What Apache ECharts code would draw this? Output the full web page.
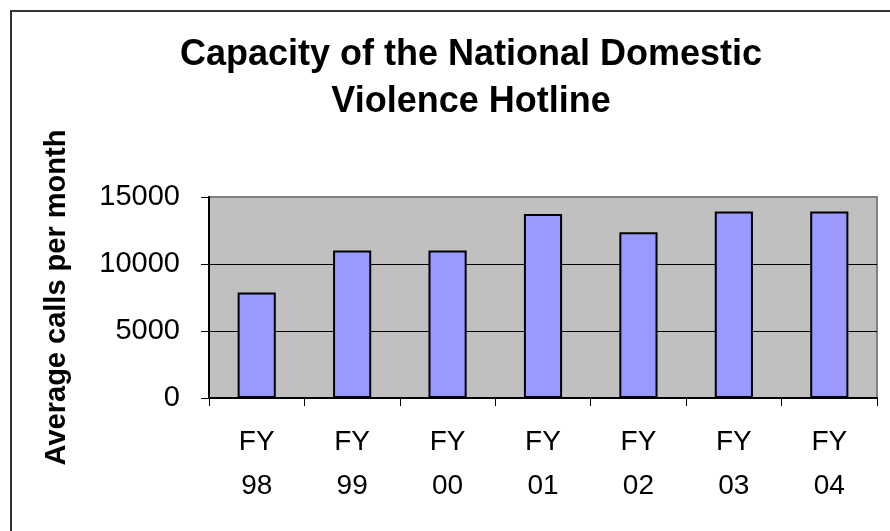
<!DOCTYPE html>
<html>
<head>
<meta charset="utf-8">
<script src="https://cdn.jsdelivr.net/npm/echarts@6/dist/echarts.min.js"></script>
<style>
  html, body { margin: 0; padding: 0; background: #fff; }
  #chart { width: 890px; height: 531px; }
</style>
</head>
<body>
<div id="chart"></div>
<script>
// data
const categories = ["FY\n98", "FY\n99", "FY\n00", "FY\n01", "FY\n02", "FY\n03", "FY\n04"];
const callsPerMonth = [7870, 11000, 11000, 13730, 12370, 13910, 13910];
const yTicks = [0, 5000, 10000, 15000];

const font = "'Liberation Sans', Arial, sans-serif";

const chart = echarts.init(document.getElementById("chart"));

const option = {
  backgroundColor: "#fff",
  animation: false,
  title: {
    text: "Capacity of the National Domestic\nViolence Hotline",
    left: 466,
    top: 27,
    textAlign: "center",
    textStyle: {
      fontFamily: font,
      fontSize: 36,
      fontWeight: "bold",
      lineHeight: 47,
      color: "#000",
    },
  },
  graphic: [
    {
      type: "rect",
      shape: { x: 11, y: 11, width: 1000, height: 1000 },
      style: { fill: "none", stroke: "#333", lineWidth: 2 },
      silent: true,
    },
  ],
  grid: {
    left: 209,
    right: 13,
    top: 197,
    bottom: 133,
    show: true,
    backgroundColor: "#C0C0C0",
    borderColor: "#808080",
    borderWidth: 2,
  },
  xAxis: {
    type: "category",
    data: categories,
    axisLine: { lineStyle: { color: "#000", width: 2 } },
    axisTick: { show: true, inside: false, length: 8, lineStyle: { color: "#000", width: 1 } },
    axisLabel: {
      fontFamily: font,
      fontSize: 28,
      lineHeight: 44,
      color: "#000",
      margin: 22,
      interval: 0,
    },
  },
  yAxis: {
    type: "value",
    min: yTicks[0],
    max: yTicks[yTicks.length - 1],
    interval: yTicks[1] - yTicks[0],
    name: "Average calls per month",
    nameLocation: "middle",
    nameRotate: 90,
    nameGap: 138,
    nameTextStyle: {
      fontFamily: font,
      fontSize: 29,
      fontWeight: "bold",
      color: "#000",
    },
    axisLine: { show: true, lineStyle: { color: "#000", width: 2 } },
    axisTick: { show: true, inside: false, length: 8, lineStyle: { color: "#000", width: 1 } },
    axisLabel: {
      fontFamily: font,
      fontSize: 29,
      color: "#000",
      margin: 29,
      formatter: (v) => String(v),
    },
    splitLine: {
      show: true,
      lineStyle: { color: ["#000", "#000", "#000", "#808080"], width: 1 },
    },
  },
  series: [
    {
      type: "bar",
      data: callsPerMonth,
      barWidth: "40%",
      itemStyle: {
        color: "#9999FF",
        borderColor: "#000",
        borderWidth: 2,
      },
    },
  ],
};

chart.setOption(option);
</script>
</body>
</html>
